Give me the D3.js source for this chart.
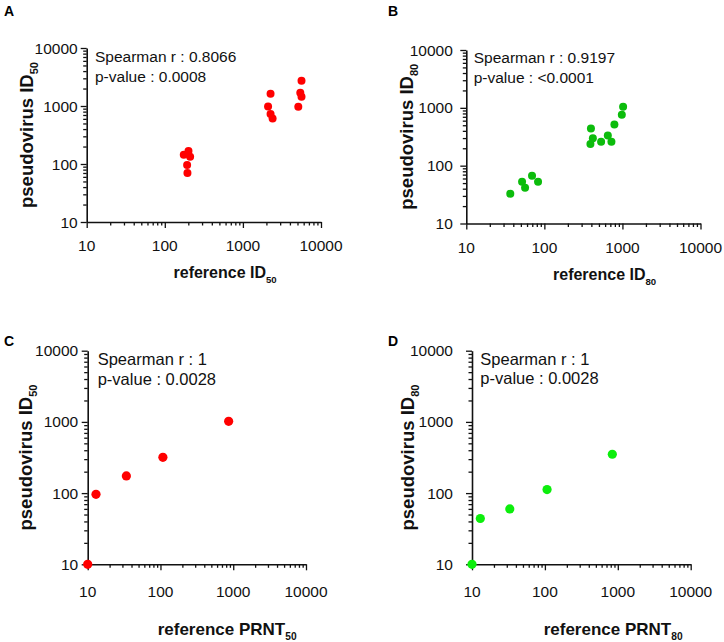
<!DOCTYPE html>
<html><head><meta charset="utf-8">
<script src="https://cdnjs.cloudflare.com/ajax/libs/d3/7.8.5/d3.min.js"></script>
<style>body{margin:0;background:#fff;} text{font-family:"Liberation Sans",Arial,sans-serif;}</style>
</head><body><svg id="c" width="724" height="642"></svg>
<script>
// ---- data ----
const tickValues = [10, 100, 1000, 10000];
const tickLabels = ["10", "100", "1000", "10000"];

const refA    = [175, 201, 211, 193, 195, 2260, 2100, 2260, 2400, 5630, 5430, 5630, 5120];
const pseudoA = [144, 168, 133, 96, 70, 1626, 984, 725, 611, 2723, 1690, 1443, 968];

const refB    = [36.6, 51.8, 56.6, 69.5, 83, 395, 389, 418, 533, 650, 723, 789, 982, 1020];
const pseudoB = [32.7, 52.6, 41.5, 66.8, 52.6, 440, 236, 299, 259, 333, 259, 516, 760, 1045];

const refC    = [10, 13, 34, 108, 865];
const pseudoC = [10, 96, 174, 318, 1018];

const refD    = [10, 13, 33, 107, 841];
const pseudoD = [10, 44, 60, 112, 351];

const letters = ["A", "B", "C", "D"];
const yTitles = [["pseudovirus ID", "50"], ["pseudovirus ID", "80"], ["pseudovirus ID", "50"], ["pseudovirus ID", "80"]];
const xTitles = [["reference ID", "50"], ["reference ID", "80"], ["reference PRNT", "50"], ["reference PRNT", "80"]];
const statR = ["Spearman r : 0.8066", "Spearman r : 0.9197", "Spearman r : 1", "Spearman r : 1"];
const statP = ["p-value : 0.0008", "p-value : <0.0001", "p-value : 0.0028", "p-value : 0.0028"];
const colors = ["#ff0000", "#0cbc0c", "#ff0000", "#0cee0c"];

// ---- layout ----
const panels = [
  {x: refA, y: pseudoA, x0: 86.7, x1: 321, yb: 222, yt: 48, r: 4, fs: 15.5, xtfs: 16, ytfs: 18.5, letter: [4, 16],
   ylabGap: 9, xlabBase: 251, xtitle: [173.5, 278], ytitleX: 33, stat: [95, 62, 20], sfs: 15.5},
  {x: refB, y: pseudoB, x0: 466.3, x1: 700.5, yb: 223.5, yt: 50, r: 4, fs: 15.5, xtfs: 16, ytfs: 18.5, letter: [388, 16],
   ylabGap: 13.5, xlabBase: 253, xtitle: [553, 280], ytitleX: 413, stat: [473.7, 63.3, 20], sfs: 15.5},
  {x: refC, y: pseudoC, x0: 87.7, x1: 306, yb: 564.3, yt: 350.7, r: 4.6, fs: 15.5, xtfs: 17, ytfs: 18.5, letter: [4, 346],
   ylabGap: 9.5, xlabBase: 597, xtitle: [157.7, 635], ytitleX: 32, stat: [97.7, 365, 19.5], sfs: 16.5},
  {x: refD, y: pseudoD, x0: 472, x1: 690.7, yb: 564.3, yt: 350.7, r: 4.6, fs: 15.5, xtfs: 17, ytfs: 18.5, letter: [388, 346],
   ylabGap: 19, xlabBase: 597, xtitle: [543.7, 635], ytitleX: 414, stat: [480.3, 365, 19], sfs: 16.5}
];

const svg = d3.select("#c");
svg.append("rect").attr("width", 724).attr("height", 642).attr("fill", "#fff");

const minorVals = [];
[10, 100, 1000].forEach(d => { for (let k = 2; k <= 9; k++) minorVals.push(d * k); });

panels.forEach((p, i) => {
  const xs = d3.scaleLog().domain([10, 10000]).range([p.x0, p.x1]);
  const ys = d3.scaleLog().domain([10, 10000]).range([p.yb, p.yt]);
  const g = svg.append("g");

  const xMaj = g.append("g").attr("transform", `translate(0,${p.yb})`)
    .call(d3.axisBottom(xs).tickValues(tickValues).tickFormat("").tickSize(6).tickSizeOuter(0));
  const xMin = g.append("g").attr("transform", `translate(0,${p.yb})`)
    .call(d3.axisBottom(xs).tickValues(minorVals).tickFormat("").tickSize(3.5).tickSizeOuter(0));
  const yMaj = g.append("g").attr("transform", `translate(${p.x0},0)`)
    .call(d3.axisLeft(ys).tickValues(tickValues).tickFormat("").tickSize(6).tickSizeOuter(0));
  const yMin = g.append("g").attr("transform", `translate(${p.x0},0)`)
    .call(d3.axisLeft(ys).tickValues(minorVals).tickFormat("").tickSize(3.5).tickSizeOuter(0));
  [xMaj, xMin, yMaj, yMin].forEach(a => {
    a.selectAll("path").attr("stroke", "#111").attr("stroke-width", 1.6);
    a.selectAll("line").attr("stroke", "#111").attr("stroke-width", 1.3);
  });
  xMin.select("path").remove(); yMin.select("path").remove();

  g.selectAll(".xl").data(tickValues).enter().append("text")
    .attr("x", d => xs(d)).attr("y", p.xlabBase).attr("text-anchor", "middle")
    .attr("font-size", p.fs).attr("fill", "#111").text((d, j) => tickLabels[j]);
  g.selectAll(".yl").data(tickValues).enter().append("text")
    .attr("x", p.x0 - p.ylabGap).attr("y", d => ys(d)).attr("dy", "0.36em").attr("text-anchor", "end")
    .attr("font-size", p.fs).attr("fill", "#111").text((d, j) => tickLabels[j]);

  const xt = g.append("text").attr("x", p.xtitle[0]).attr("y", p.xtitle[1])
    .attr("font-size", p.xtfs).attr("font-weight", "bold").attr("fill", "#111");
  xt.append("tspan").text(xTitles[i][0]);
  xt.append("tspan").attr("font-size", p.xtfs * 0.6).attr("dy", 5).text(xTitles[i][1]);

  const yc = (p.yb + p.yt) / 2;
  const yt = g.append("text").attr("transform", `translate(${p.ytitleX},${yc}) rotate(-90)`)
    .attr("text-anchor", "middle").attr("font-size", p.ytfs).attr("font-weight", "bold").attr("fill", "#111");
  yt.append("tspan").text(yTitles[i][0]);
  yt.append("tspan").attr("font-size", p.ytfs * 0.6).attr("dy", 5).text(yTitles[i][1]);

  g.append("text").attr("x", p.stat[0]).attr("y", p.stat[1]).attr("font-size", p.sfs).attr("fill", "#111").text(statR[i]);
  g.append("text").attr("x", p.stat[0]).attr("y", p.stat[1] + p.stat[2]).attr("font-size", p.sfs).attr("fill", "#111").text(statP[i]);

  g.append("text").attr("x", p.letter[0]).attr("y", p.letter[1]).attr("font-size", 14)
    .attr("font-weight", "bold").attr("fill", "#000").text(letters[i]);

  g.selectAll("circle").data(p.x.map((v, j) => [v, p.y[j]])).enter().append("circle")
    .attr("cx", d => xs(d[0])).attr("cy", d => ys(d[1])).attr("r", p.r).attr("fill", colors[i]);
});
</script></body></html>
